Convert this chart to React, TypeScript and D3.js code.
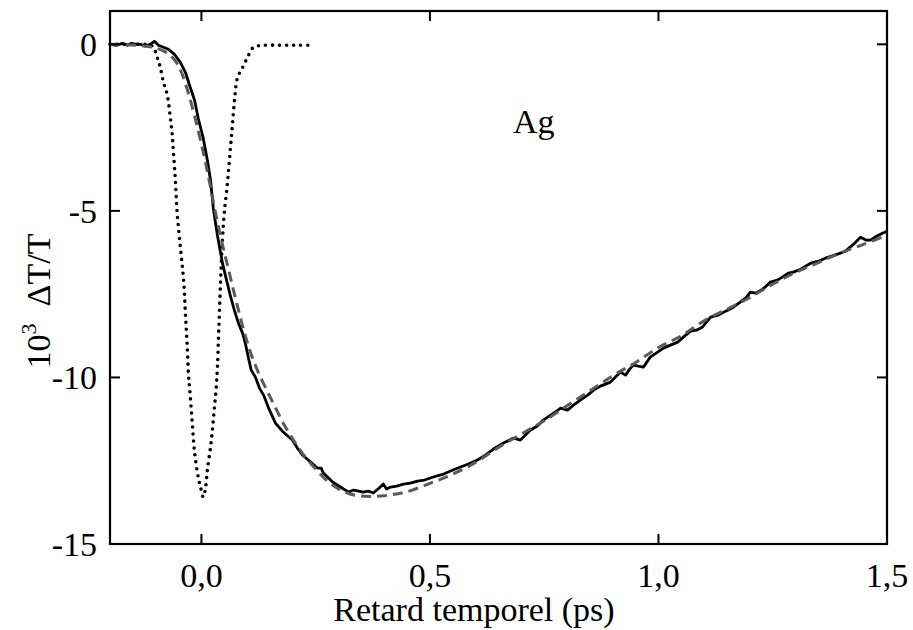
import { useMemo } from "react";
import * as d3 from "d3";

const WIDTH = 913;
const HEIGHT = 630;
const MARGIN = { top: 11, right: 26, bottom: 86, left: 110 };
const FONT = "'Liberation Serif', 'Times New Roman', serif";

// measured transmission change, [delay (ps), 10^3 dT/T]
const measured: [number, number][] = [
  [-0.2, 0], [-0.186, -0.03], [-0.173, 0.03], [-0.162, -0.03], [-0.153, 0.03],
  [-0.142, 0], [-0.133, 0], [-0.123, -0.06], [-0.112, 0], [-0.103, 0.09],
  [-0.094, -0.03], [-0.083, -0.09], [-0.072, -0.15], [-0.059, -0.3], [-0.046, -0.54],
  [-0.035, -0.84], [-0.026, -1.23], [-0.015, -1.68], [-0.007, -2.22], [0.004, -2.82],
  [0.013, -3.48], [0.02, -4.08], [0.026, -4.92], [0.035, -5.73], [0.046, -6.57],
  [0.055, -7.08], [0.063, -7.53], [0.072, -7.98], [0.081, -8.37], [0.09, -8.67],
  [0.096, -8.97], [0.103, -9.42], [0.109, -9.78], [0.118, -9.99], [0.127, -10.32],
  [0.136, -10.53], [0.147, -10.92], [0.162, -11.37], [0.179, -11.64], [0.199, -11.88],
  [0.21, -12.12], [0.221, -12.33], [0.239, -12.54], [0.254, -12.72], [0.262, -12.72],
  [0.267, -12.87], [0.287, -13.14], [0.311, -13.35], [0.322, -13.44], [0.333, -13.38],
  [0.344, -13.41], [0.354, -13.44], [0.365, -13.41], [0.376, -13.47], [0.389, -13.32],
  [0.398, -13.2], [0.405, -13.35], [0.414, -13.29], [0.427, -13.26], [0.442, -13.2],
  [0.457, -13.17], [0.473, -13.11], [0.488, -13.08], [0.501, -13.02], [0.514, -12.96],
  [0.53, -12.9], [0.545, -12.81], [0.567, -12.69], [0.584, -12.6], [0.604, -12.48],
  [0.621, -12.33], [0.639, -12.15], [0.661, -11.97], [0.683, -11.82], [0.698, -11.88],
  [0.709, -11.73], [0.72, -11.58], [0.735, -11.46], [0.748, -11.28], [0.764, -11.13],
  [0.777, -11.01], [0.786, -10.92], [0.801, -10.98], [0.814, -10.83], [0.829, -10.68],
  [0.845, -10.53], [0.858, -10.38], [0.873, -10.26], [0.895, -10.14], [0.906, -9.99],
  [0.917, -9.84], [0.928, -9.93], [0.937, -9.75], [0.945, -9.63], [0.956, -9.66],
  [0.967, -9.69], [0.976, -9.51], [0.982, -9.39], [0.998, -9.24], [1.011, -9.12],
  [1.026, -9.03], [1.042, -8.94], [1.057, -8.76], [1.07, -8.61], [1.083, -8.58],
  [1.096, -8.49], [1.105, -8.34], [1.114, -8.19], [1.131, -8.13], [1.147, -8.01],
  [1.164, -7.89], [1.179, -7.74], [1.193, -7.59], [1.201, -7.44], [1.212, -7.47],
  [1.228, -7.35], [1.245, -7.14], [1.26, -7.08], [1.271, -6.99], [1.284, -6.87],
  [1.295, -6.84], [1.311, -6.75], [1.333, -6.57], [1.35, -6.51], [1.365, -6.42],
  [1.392, -6.3], [1.409, -6.21], [1.427, -6.0], [1.442, -5.79], [1.455, -5.88],
  [1.464, -5.88], [1.477, -5.76], [1.49, -5.67], [1.5, -5.61],
];

// model fit (grey dashed)
const fitted: [number, number][] = [
  [-0.2, 0], [-0.15, -0.02], [-0.11, -0.08], [-0.08, -0.22], [-0.06, -0.45],
  [-0.045, -0.8], [-0.03, -1.4], [-0.015, -2.15], [0, -3.0], [0.015, -3.95],
  [0.03, -5.0], [0.045, -5.95], [0.06, -6.8], [0.075, -7.65], [0.09, -8.45],
  [0.105, -9.15], [0.12, -9.7], [0.14, -10.3], [0.16, -10.85], [0.18, -11.4],
  [0.2, -11.85], [0.225, -12.35], [0.25, -12.75], [0.275, -13.1], [0.3, -13.35],
  [0.325, -13.5], [0.35, -13.56], [0.375, -13.57], [0.4, -13.55], [0.425, -13.5],
  [0.45, -13.43], [0.5, -13.18], [0.55, -12.9], [0.6, -12.55], [0.65, -12.1],
  [0.7, -11.7], [0.75, -11.3], [0.8, -10.85], [0.85, -10.4], [0.9, -9.95],
  [0.95, -9.55], [1.0, -9.1], [1.05, -8.75], [1.1, -8.3], [1.15, -7.95],
  [1.2, -7.6], [1.25, -7.2], [1.3, -6.85], [1.35, -6.55], [1.4, -6.25],
  [1.45, -6.0], [1.5, -5.73],
];

// pump-probe cross-correlation (dotted)
const crossCorr: [number, number][] = [
  [-0.2, 0], [-0.155, 0], [-0.123, 0], [-0.107, -0.06], [-0.096, -0.42],
  [-0.09, -0.69], [-0.083, -1.14], [-0.075, -1.5], [-0.068, -2.2], [-0.064, -2.7],
  [-0.061, -3.27], [-0.057, -4.08], [-0.053, -5.07], [-0.046, -6.09], [-0.039, -7.08],
  [-0.035, -8.07], [-0.031, -9.09], [-0.028, -9.99], [-0.026, -10.29], [-0.02, -11.37],
  [-0.015, -12.24], [-0.007, -12.99], [-0.002, -13.29], [0.004, -13.59], [0.009, -13.32],
  [0.013, -12.78], [0.02, -12.09], [0.024, -11.58], [0.028, -10.98], [0.032, -10.38],
  [0.035, -9.7], [0.038, -8.58], [0.042, -7.08], [0.046, -5.88], [0.05, -5.07],
  [0.057, -4.17], [0.063, -3.2], [0.068, -2.4], [0.073, -1.6], [0.079, -1.0],
  [0.09, -0.7], [0.101, -0.39], [0.114, -0.09], [0.136, -0.03], [0.173, -0.03],
  [0.206, -0.03], [0.234, -0.03],
];

const xTicks = [0, 0.5, 1.0, 1.5];
const yTicks = [0, -5, -10, -15];
const fmtX = (v: number) => v.toFixed(1).replace(".", ",");

export default function App() {
  const boundsWidth = WIDTH - MARGIN.left - MARGIN.right;
  const boundsHeight = HEIGHT - MARGIN.top - MARGIN.bottom;

  const xScale = useMemo(
    () => d3.scaleLinear().domain([-0.2, 1.5]).range([0, boundsWidth]),
    [boundsWidth]
  );
  const yScale = useMemo(
    () => d3.scaleLinear().domain([-15, 1]).range([boundsHeight, 0]),
    [boundsHeight]
  );

  const lineLinear = d3
    .line<[number, number]>()
    .x((d) => xScale(d[0]))
    .y((d) => yScale(d[1]));
  const lineSmooth = d3
    .line<[number, number]>()
    .x((d) => xScale(d[0]))
    .y((d) => yScale(d[1]))
    .curve(d3.curveCatmullRom);

  const tickLen = 10;

  return (
    <svg
      width={WIDTH}
      height={HEIGHT}
      style={{ position: "absolute", left: 0, top: 0, background: "#fff" }}
      fontFamily={FONT}
    >
      <g transform={`translate(${MARGIN.left},${MARGIN.top})`}>
        {/* curves */}
        <path
          d={lineSmooth(crossCorr) ?? ""}
          fill="none"
          stroke="#000"
          strokeWidth={3.6}
          strokeLinecap="round"
          strokeDasharray="0 7"
        />
        <path
          d={lineLinear(measured) ?? ""}
          fill="none"
          stroke="#000"
          strokeWidth={2.8}
          strokeLinejoin="round"
        />
        <path
          d={lineSmooth(fitted) ?? ""}
          fill="none"
          stroke="#5a5a5a"
          strokeWidth={3}
          strokeDasharray="10 6"
        />

        {/* frame */}
        <rect
          x={0}
          y={0}
          width={boundsWidth}
          height={boundsHeight}
          fill="none"
          stroke="#000"
          strokeWidth={2.2}
        />

        {/* x ticks (inward, bottom + top) */}
        {xTicks.map((t) => (
          <g key={t} transform={`translate(${xScale(t)},0)`}>
            <line y1={boundsHeight} y2={boundsHeight - tickLen} stroke="#000" strokeWidth={2} />
            <line y1={0} y2={tickLen} stroke="#000" strokeWidth={2} />
            <text
              y={boundsHeight + 43}
              textAnchor="middle"
              fontSize={34}
              fill="#000"
            >
              {fmtX(t)}
            </text>
          </g>
        ))}

        {/* y ticks (inward, left + right) */}
        {yTicks.map((v) => (
          <g key={v} transform={`translate(0,${yScale(v)})`}>
            <line x1={0} x2={tickLen} stroke="#000" strokeWidth={2} />
            <line x1={boundsWidth} x2={boundsWidth - tickLen} stroke="#000" strokeWidth={2} />
            <text x={-13} y={12} textAnchor="end" fontSize={34} fill="#000">
              {v}
            </text>
          </g>
        ))}

        <text x={403} y={122} fontSize={34} fill="#000">
          Ag
        </text>
      </g>

      {/* axis titles */}
      <text x={474} y={621} textAnchor="middle" fontSize={34} fill="#000">
        Retard temporel (ps)
      </text>
      <text
        transform="translate(50,301) rotate(-90)"
        textAnchor="middle"
        fontSize={34}
        fill="#000"
      >
        10
        <tspan fontSize={22} dy={-14}>
          3
        </tspan>
        <tspan dy={14}>{"\u00a0\u00a0ΔT/T"}</tspan>
      </text>
    </svg>
  );
}
